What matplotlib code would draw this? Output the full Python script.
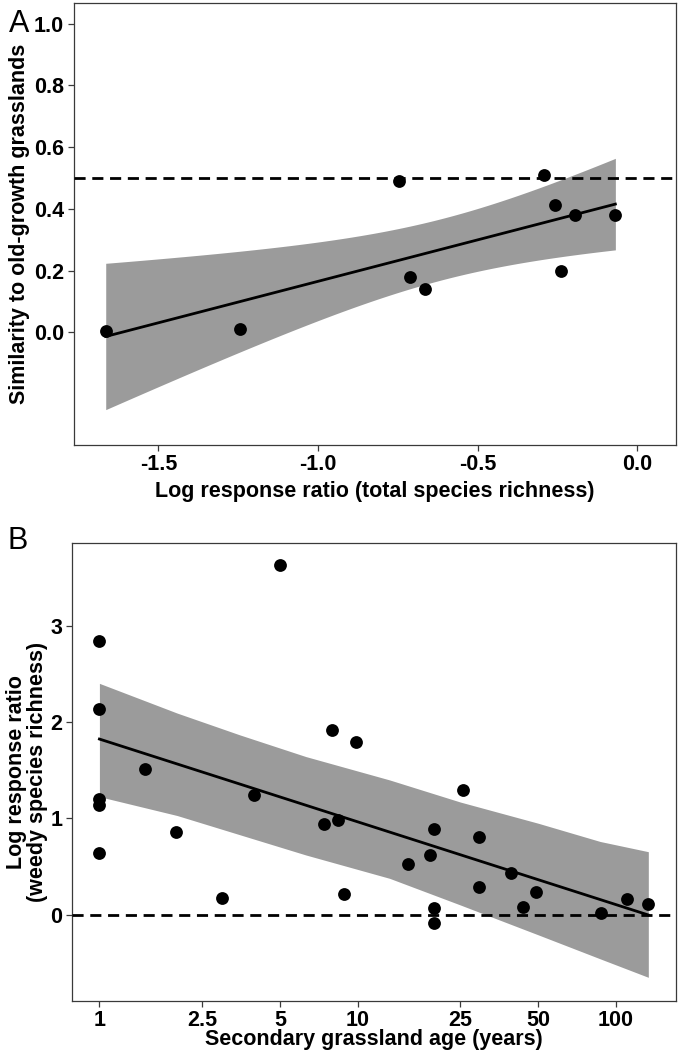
import numpy as np
import matplotlib
matplotlib.use("Agg")
import matplotlib.pyplot as plt

plt.rcParams['font.family'] = ['Liberation Sans', 'DejaVu Sans']
plt.rcParams['axes.unicode_minus'] = False

# ---------------- Panel A data ----------------
lrr_total = [-1.665, -1.245, -0.746, -0.713, -0.664, -0.293, -0.256, -0.239, -0.194, -0.068]
similarity = [0.003, 0.011, 0.489, 0.179, 0.139, 0.511, 0.414, 0.198, 0.381, 0.379]
T_CRIT_A = 2.306  # t(0.975, df = 8)
a_xticks = [-1.5, -1.0, -0.5, 0.0]
a_yticks = [0.0, 0.2, 0.4, 0.6, 0.8, 1.0]
a_ref = 0.5

# ---------------- Panel B data ----------------
age_years = [1, 1, 1, 1, 1, 1.50, 1.98, 2.98, 3.97, 5.01, 7.41, 7.94, 8.42, 8.88, 9.86,
             15.7, 19.1, 19.7, 19.7, 19.7, 25.5, 29.4, 29.4, 39.2, 43.8, 48.9, 87.6, 110, 133.6]
lrr_weedy = [2.842, 2.134, 1.199, 1.139, 0.637, 1.513, 0.859, 0.169, 1.243, 3.636, 0.942, 1.919,
             0.983, 0.211, 1.797, 0.523, 0.620, 0.890, 0.072, -0.084, 1.295, 0.810, 0.290, 0.436,
             0.082, 0.235, 0.020, 0.162, 0.110]
fit_age = [1, 133.6]
fit_lrr = [1.825, -0.004]
band_age = [1, 2, 3.5, 6.3, 13.3, 25, 50, 87, 133.6]
band_upper = [2.404, 2.095, 1.868, 1.643, 1.400, 1.170, 0.950, 0.760, 0.654]
band_lower = [1.226, 1.030, 0.830, 0.620, 0.377, 0.100, -0.210, -0.460, -0.652]
b_xticks = [1, 2.5, 5, 10, 25, 50, 100]
b_xticklabels = ['1', '2.5', '5', '10', '25', '50', '100']
b_yticks = [0, 1, 2, 3]
b_ref = 0.0

W, H = 679, 1051
fig = plt.figure(figsize=(W / 100, H / 100), dpi=100)

def px_axes(left, top, right, bottom):
    return fig.add_axes([left / W, 1 - bottom / H, (right - left) / W, (bottom - top) / H])

axA = px_axes(73.5, 2.7, 676, 445)
axB = px_axes(71.7, 543.3, 676, 1000.5)

BAND = '#9b9b9b'
FS = 15.5
DASH = (0, (4, 2.4))

def style(ax):
    for sp in ax.spines.values():
        sp.set_color('#3a3a3a')
        sp.set_linewidth(0.9)
    ax.tick_params(axis='both', which='major', direction='out', length=4.2, width=0.9,
                   color='#3a3a3a', labelsize=FS, pad=2.5, labelcolor='black')
    ax.tick_params(axis='both', which='minor', length=0)
    for lab in ax.get_xticklabels() + ax.get_yticklabels():
        lab.set_fontweight('bold')

# ---------------- Panel A ----------------
x = np.array(lrr_total)
y = np.array(similarity)
n = len(x)
xm = x.mean()
sxx = ((x - xm) ** 2).sum()
slope = ((x - xm) * (y - y.mean())).sum() / sxx
icpt = y.mean() - slope * xm
resid = y - (icpt + slope * x)
s = np.sqrt((resid ** 2).sum() / (n - 2))
xg = np.linspace(x.min(), x.max(), 200)
yg = icpt + slope * xg
se = s * np.sqrt(1 / n + (xg - xm) ** 2 / sxx)

axA.fill_between(xg, yg - T_CRIT_A * se, yg + T_CRIT_A * se, color=BAND, lw=0, zorder=1)
axA.plot(xg, yg, color='black', lw=2.0, zorder=2)
axA.axhline(a_ref, color='black', lw=2.0, linestyle=DASH, zorder=3)
axA.scatter(x, y, s=85, color='black', lw=0, zorder=4)
axA.set_xlim(-1.766, 0.122)
axA.set_ylim(-0.365, 1.068)
axA.set_xticks(a_xticks)
axA.set_xticklabels([f'{v:.1f}' for v in a_xticks])
axA.set_yticks(a_yticks)
axA.set_yticklabels([f'{v:.1f}' for v in a_yticks])
style(axA)

# ---------------- Panel B ----------------
axB.set_xscale('log')
axB.fill_between(band_age, band_lower, band_upper, color=BAND, lw=0, zorder=1)
axB.plot(fit_age, fit_lrr, color='black', lw=2.0, zorder=2)
axB.axhline(b_ref, color='black', lw=2.0, linestyle=DASH, zorder=3)
axB.scatter(age_years, lrr_weedy, s=85, color='black', lw=0, zorder=4)
axB.set_xlim(0.781, 171)
axB.set_ylim(-0.893, 3.86)
axB.set_xticks(b_xticks)
axB.set_xticklabels(b_xticklabels)
axB.xaxis.set_minor_locator(matplotlib.ticker.NullLocator())
axB.set_yticks(b_yticks)
axB.set_yticklabels([str(v) for v in b_yticks])
style(axB)

# ---------------- Labels ----------------
fig.text(375 / W, 1 - 491.5 / H, 'Log response ratio (total species richness)',
         ha='center', va='center', fontsize=FS, fontweight='bold')
fig.text(19.6 / W, 1 - 224 / H, 'Similarity to old-growth grasslands',
         ha='center', va='center', rotation=90, fontsize=FS, fontweight='bold')
fig.text(374 / W, 1 - 1039.5 / H, 'Secondary grassland age (years)',
         ha='center', va='center', fontsize=FS, fontweight='bold')
fig.text(27 / W, 1 - 772 / H, 'Log response ratio\n(weedy species richness)',
         ha='center', va='center', rotation=90, fontsize=FS, fontweight='bold',
         linespacing=1.0, multialignment='center')
fig.text(9 / W, 1 - 32 / H, 'A', ha='left', va='baseline', fontsize=22)
fig.text(7 / W, 1 - 549 / H, 'B', ha='left', va='baseline', fontsize=22)

fig.savefig('out.png', dpi=100)
